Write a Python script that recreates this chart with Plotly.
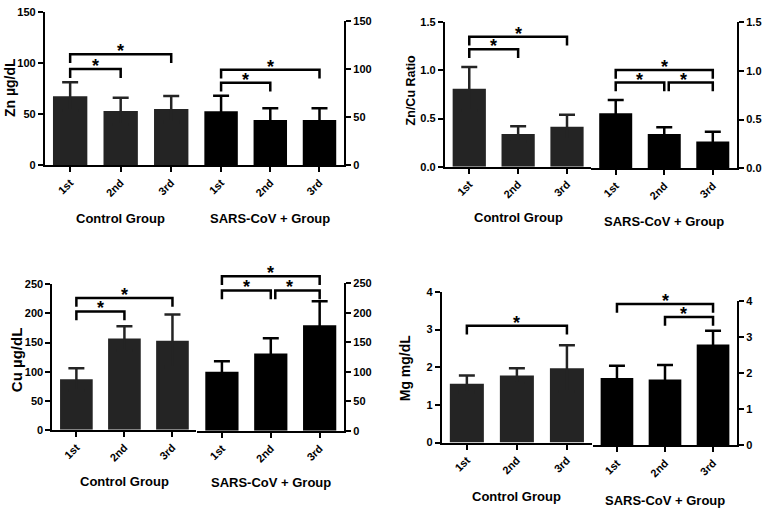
import plotly.graph_objects as go

categories = ["1st", "2nd", "3rd"]
group_names = ["Control Group", "SARS-CoV + Group"]
y_titles = ["Zn µg/dL", "Zn/Cu Ratio", "Cu µg/dL", "Mg mg/dL"]

zn_control = [67.5, 53.0, 55.0]
zn_control_err = [13.7, 13.0, 12.7]
zn_sars = [56.0, 47.0, 47.0]
zn_sars_err = [16.0, 12.0, 12.0]

ratio_control = [0.81, 0.34, 0.415]
ratio_control_err = [0.225, 0.08, 0.125]
ratio_sars = [0.565, 0.35, 0.275]
ratio_sars_err = [0.135, 0.07, 0.10]

cu_control = [87, 157, 153]
cu_control_err = [19, 21, 45]
cu_sars = [100, 131, 179]
cu_sars_err = [18, 26, 40.5]

mg_control = [1.56, 1.78, 1.97]
mg_control_err = [0.22, 0.19, 0.61]
mg_sars = [1.86, 1.82, 2.79]
mg_sars_err = [0.34, 0.40, 0.38]

# significance brackets: (from category index, to category index, bracket height in data units)
zn_control_sig = [(0, 1, 94), (0, 2, 108.5)]
zn_sars_sig = [(0, 1, 85.5), (0, 2, 99)]
ratio_control_sig = [(0, 1, 1.22), (0, 2, 1.35)]
ratio_sars_sig = [(0, 1, 0.88), (1, 2, 0.88), (0, 2, 1.01)]
cu_control_sig = [(0, 1, 203.5), (0, 2, 226.5)]
cu_sars_sig = [(0, 1, 238), (1, 2, 238), (0, 2, 262)]
mg_control_sig = [(0, 2, 3.1)]
mg_sars_sig = [(1, 2, 3.55), (0, 2, 3.91)]

y_max = [150, 1.5, 250, 4]
y_dtick = [50, 0.5, 50, 1]
y_format = ["d", ".1f", "d", "d"]

series = [
    [(zn_control, zn_control_err, zn_control_sig), (zn_sars, zn_sars_err, zn_sars_sig)],
    [(ratio_control, ratio_control_err, ratio_control_sig), (ratio_sars, ratio_sars_err, ratio_sars_sig)],
    [(cu_control, cu_control_err, cu_control_sig), (cu_sars, cu_sars_err, cu_sars_sig)],
    [(mg_control, mg_control_err, mg_control_sig), (mg_sars, mg_sars_err, mg_sars_sig)],
]

W, H = 762, 513
FONT = "Liberation Sans, Arial, sans-serif"
group_colors = ["#242424", "#000000"]

# layout geometry in pixels: per panel, per group: (x0, x1), (ytop, ybottom)
geom = [
    [((45, 197), (6, 163)), ((197, 345), (15, 163))],
    [((446, 593), (16.7, 164.5)), ((593, 739), (16.7, 166))],
    [((52.5, 197), (285, 434)), ((198, 345), (284, 435))],
    [((443, 593.5), (292.7, 447)), ((594.5, 739), (301.7, 450))],
]
title_pos = [(9.5, 83.5), (413, 86.5), (16.7, 363), (406, 370)]
title_size = [14, 12.5, 15, 14]
group_label_y = [(218, 218), (217, 221), (487, 488), (502, 506)]

fig = go.Figure()
shapes = []
annotations = []
layout = {}

for p in range(4):
    for g in range(2):
        k = 2 * p + g + 1
        xn = "x" if k == 1 else f"x{k}"
        yn = "y" if k == 1 else f"y{k}"
        xkey = "xaxis" if k == 1 else f"xaxis{k}"
        ykey = "yaxis" if k == 1 else f"yaxis{k}"
        (x0, x1), (yt, yb) = geom[p][g]
        vals, errs, sig = series[p][g]
        col = group_colors[g]
        fig.add_trace(go.Bar(
            x=categories, y=vals, xaxis=xn, yaxis=yn,
            marker=dict(color=col, line=dict(width=0)), width=0.68,
            error_y=dict(type="data", symmetric=True, array=errs, color=col,
                         thickness=2.5, width=8),
            showlegend=False, hoverinfo="skip"))
        tickfont = dict(family=FONT, size=11, color="black", weight="bold")
        layout[xkey] = dict(
            domain=[x0 / W, x1 / W], anchor=yn, type="category",
            range=[-0.5, 2.5], showline=True, linecolor="black", linewidth=2,
            ticks="outside", ticklen=5, tickwidth=2, tickcolor="black",
            tickangle=-45, tickfont=tickfont, showgrid=False, zeroline=False)
        layout[ykey] = dict(
            domain=[1 - yb / H, 1 - yt / H], anchor=xn,
            side="left" if g == 0 else "right",
            range=[0, y_max[p]], tick0=0, dtick=y_dtick[p], tickformat=y_format[p],
            showline=True, linecolor="black", linewidth=2,
            ticks="outside", ticklen=5, tickwidth=2, tickcolor="black",
            tickfont=tickfont, showgrid=False, zeroline=False)

        dom_w = x1 - x0
        dom_h = yb - yt
        leg = 9 / dom_h
        n = len(categories)
        for (i, j, h) in sig:
            xa = (i + 0.5) / n
            xb = (j + 0.5) / n
            if any(jj == i and hh == h for (ii, jj, hh) in sig):
                xa += 4.5 / dom_w
            ytop = h / y_max[p]
            shapes.append(dict(
                type="path", xref=f"{xn} domain", yref=f"{yn} domain",
                path=f"M {xa},{ytop - leg} L {xa},{ytop} L {xb},{ytop} L {xb},{ytop - leg}",
                line=dict(color="black", width=2.5)))
            annotations.append(dict(
                xref=f"{xn} domain", yref=f"{yn} domain",
                x=((i + 0.5) / n + (j + 0.5) / n) / 2, y=ytop,
                text="*", showarrow=False, yanchor="bottom", yshift=-9,
                font=dict(family=FONT, size=18, color="black", weight="bold")))

        annotations.append(dict(
            xref=f"{xn} domain", yref="paper", x=0.5,
            y=1 - group_label_y[p][g] / H, yanchor="middle",
            text=group_names[g], showarrow=False,
            font=dict(family=FONT, size=13, color="black", weight="bold")))

    cx, cy = title_pos[p]
    annotations.append(dict(
        xref="paper", yref="paper", x=cx / W, y=1 - cy / H,
        text=y_titles[p], textangle=-90, showarrow=False,
        xanchor="center", yanchor="middle",
        font=dict(family=FONT, size=title_size[p], color="black", weight="bold")))

fig.update_layout(
    width=W, height=H, margin=dict(l=0, r=0, t=0, b=0),
    paper_bgcolor="white", plot_bgcolor="white",
    bargap=0.32, shapes=shapes, annotations=annotations, **layout)

fig.write_html("out.html", config={"displayModeBar": False},
               post_script="document.body.style.margin='0';document.body.style.padding='0';")
